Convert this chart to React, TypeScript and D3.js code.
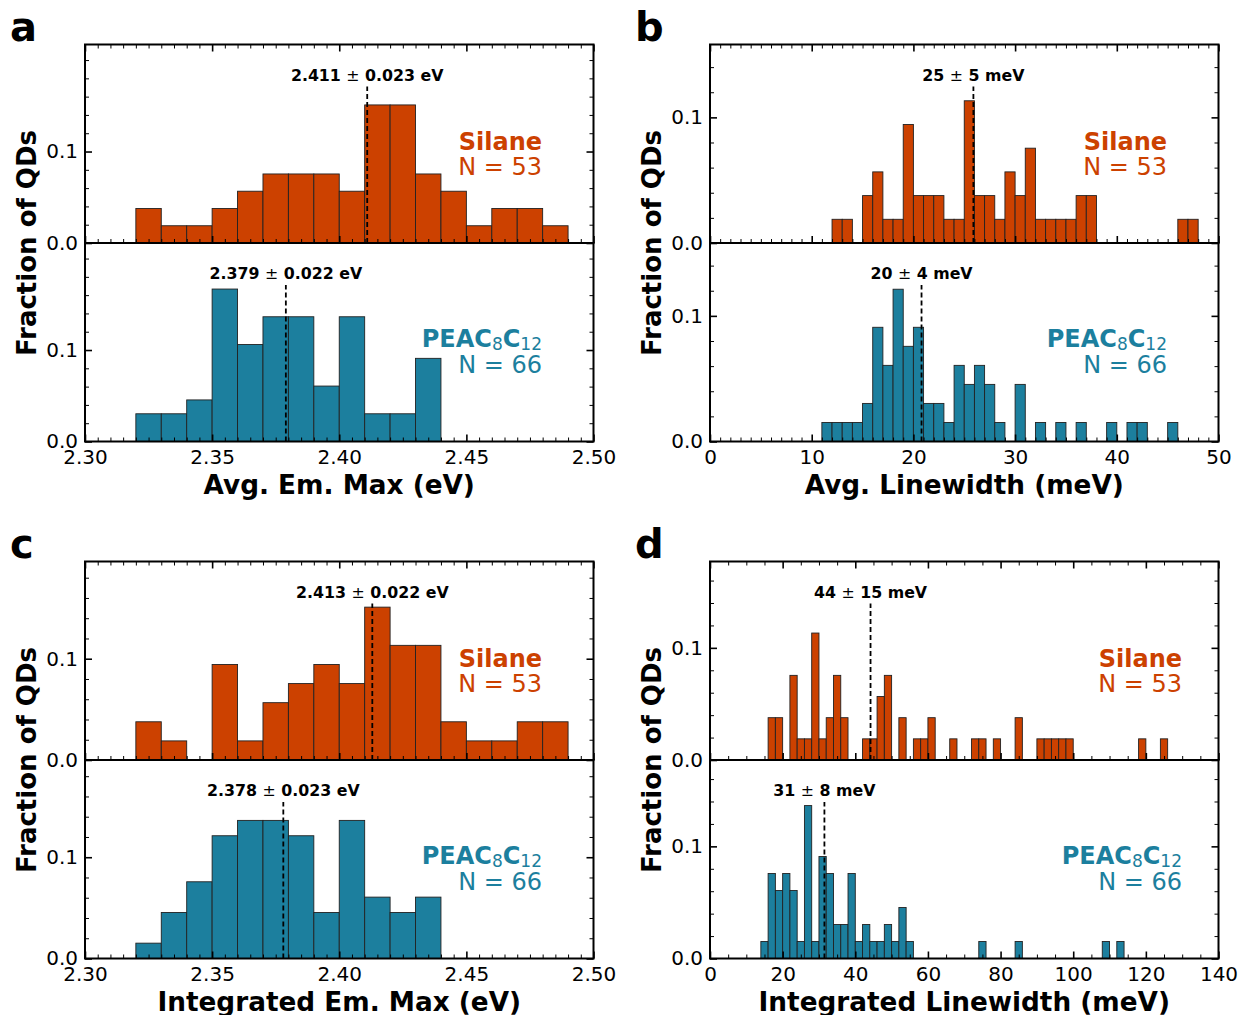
import React, { useRef, useEffect } from "react";
import * as d3 from "d3";

const FONT = "DejaVu Sans";
const silaneColor = "#cc4100";
const peacColor = "#1c7f9e";

const silaneN = 53;
const peacN = 66;

// a: average emission maximum, 0.01 eV bins (left edges)
const avgEmSilaneEdges = [2.32, 2.33, 2.34, 2.35, 2.36, 2.37, 2.38, 2.39, 2.4, 2.41, 2.42, 2.43, 2.44, 2.45, 2.46, 2.47, 2.48];
const avgEmSilaneCounts = [2, 1, 1, 2, 3, 4, 4, 4, 3, 8, 8, 4, 3, 1, 2, 2, 1];
const avgEmPeacEdges = [2.32, 2.33, 2.34, 2.35, 2.36, 2.37, 2.38, 2.39, 2.4, 2.41, 2.42, 2.43];
const avgEmPeacCounts = [2, 2, 3, 11, 7, 9, 9, 4, 9, 2, 2, 6];
const avgEmMeans = [2.411, 2.379];
const avgEmLabels = [["2.411", "0.023 eV"], ["2.379", "0.022 eV"]];

// b: average linewidth, 1 meV bins
const avgLwSilaneEdges = [12, 13, 15, 16, 17, 18, 19, 20, 21, 22, 23, 24, 25, 26, 27, 28, 29, 30, 31, 32, 33, 34, 35, 36, 37, 46, 47];
const avgLwSilaneCounts = [1, 1, 2, 3, 1, 1, 5, 2, 2, 2, 1, 1, 6, 2, 2, 1, 3, 2, 4, 1, 1, 1, 1, 2, 2, 1, 1];
const avgLwPeacEdges = [11, 12, 13, 14, 15, 16, 17, 18, 19, 20, 21, 22, 23, 24, 25, 26, 27, 28, 30, 32, 34, 36, 39, 41, 42, 45];
const avgLwPeacCounts = [1, 1, 1, 1, 2, 6, 4, 8, 5, 6, 2, 2, 1, 4, 3, 4, 3, 1, 3, 1, 1, 1, 1, 1, 1, 1];
const avgLwMeans = [25.9, 20.8];
const avgLwLabels = [["25", "5 meV"], ["20", "4 meV"]];

// c: integrated emission maximum, 0.01 eV bins
const intEmSilaneEdges = [2.32, 2.33, 2.35, 2.36, 2.37, 2.38, 2.39, 2.4, 2.41, 2.42, 2.43, 2.44, 2.45, 2.46, 2.47, 2.48];
const intEmSilaneCounts = [2, 1, 5, 1, 3, 4, 5, 4, 8, 6, 6, 2, 1, 1, 2, 2];
const intEmPeacEdges = [2.32, 2.33, 2.34, 2.35, 2.36, 2.37, 2.38, 2.39, 2.4, 2.41, 2.42, 2.43];
const intEmPeacCounts = [1, 3, 5, 8, 9, 9, 8, 3, 9, 4, 3, 4];
const intEmMeans = [2.413, 2.378];
const intEmLabels = [["2.413", "0.022 eV"], ["2.378", "0.023 eV"]];

// d: integrated linewidth, 2 meV bins
const intLwSilaneEdges = [16, 18, 22, 24, 26, 28, 30, 32, 34, 36, 42, 44, 46, 48, 52, 56, 58, 60, 66, 72, 74, 78, 84, 90, 92, 94, 96, 98, 118, 124];
const intLwSilaneCounts = [2, 2, 4, 1, 1, 6, 1, 2, 4, 2, 1, 1, 3, 4, 2, 1, 1, 2, 1, 1, 1, 1, 2, 1, 1, 1, 1, 1, 1, 1];
const intLwPeacEdges = [14, 16, 18, 20, 22, 24, 26, 28, 30, 32, 34, 36, 38, 40, 42, 44, 46, 48, 50, 52, 54, 74, 84, 108, 112];
const intLwPeacCounts = [1, 5, 4, 5, 4, 1, 9, 1, 6, 5, 2, 2, 5, 1, 2, 1, 1, 2, 1, 3, 1, 1, 1, 1, 1];
const intLwMeans = [44.2, 31.5];
const intLwLabels = [["44", "15 meV"], ["31", "8 meV"]];

const emTicks = [2.3, 2.35, 2.4, 2.45, 2.5];
const avgLwTicks = [0, 10, 20, 30, 40, 50];
const intLwTicks = [0, 20, 40, 60, 80, 100, 120, 140];
const yTicks = [0, 0.1];

const W = 508.5;
const H = 198.5;

const panels = [
  {
    letter: "a", left: 85, top: 44.5, domain: [2.3, 2.5], ticks: emTicks, minorStep: 0.005, fmt: ".2f",
    binWidth: 0.01, yMax: 0.217, xLabel: "Avg. Em. Max (eV)", textInset: 51.5,
    silane: [avgEmSilaneEdges, avgEmSilaneCounts], peac: [avgEmPeacEdges, avgEmPeacCounts],
    means: avgEmMeans, labels: avgEmLabels,
  },
  {
    letter: "b", left: 710, top: 44.5, domain: [0, 50], ticks: avgLwTicks, minorStep: 1, fmt: "d",
    binWidth: 1, yMax: 0.158, xLabel: "Avg. Linewidth (meV)", textInset: 51.5,
    silane: [avgLwSilaneEdges, avgLwSilaneCounts], peac: [avgLwPeacEdges, avgLwPeacCounts],
    means: avgLwMeans, labels: avgLwLabels,
  },
  {
    letter: "c", left: 85, top: 561.5, domain: [2.3, 2.5], ticks: emTicks, minorStep: 0.005, fmt: ".2f",
    binWidth: 0.01, yMax: 0.196, xLabel: "Integrated Em. Max (eV)", textInset: 51.5,
    silane: [intEmSilaneEdges, intEmSilaneCounts], peac: [intEmPeacEdges, intEmPeacCounts],
    means: intEmMeans, labels: intEmLabels,
  },
  {
    letter: "d", left: 710, top: 561.5, domain: [0, 140], ticks: intLwTicks, minorStep: 5, fmt: "d",
    binWidth: 2, yMax: 0.177, xLabel: "Integrated Linewidth (meV)", textInset: 36.5,
    silane: [intLwSilaneEdges, intLwSilaneCounts], peac: [intLwPeacEdges, intLwPeacCounts],
    means: intLwMeans, labels: intLwLabels,
  },
];

const styleAxis = (g, major) => {
  g.attr("font-family", FONT).attr("font-size", 20);
  g.select(".domain").remove();
  g.selectAll("line").attr("stroke", "#000").attr("stroke-width", major ? 1.6 : 1);
  g.selectAll("text").attr("fill", "#000");
};

function drawPanel(svg, p) {
  const g = svg.append("g").attr("transform", `translate(${p.left},${p.top})`);
  const x = d3.scaleLinear().domain(p.domain).range([0, W]);
  const y = d3.scaleLinear().domain([0, p.yMax]).range([H, 0]);

  const span = p.domain[1] - p.domain[0];
  const nMinor = Math.round(span / p.minorStep);
  const xMinor = d3.range(0, nMinor + 1)
    .map((i) => p.domain[0] + i * p.minorStep)
    .filter((v) => !p.ticks.some((t) => Math.abs(t - v) < p.minorStep / 10));
  const yMinor = d3.range(1, Math.floor(p.yMax / 0.02 + 1e-6) + 1)
    .map((i) => i * 0.02)
    .filter((v) => Math.abs(v - 0.1) > 0.001);

  [0, 1].forEach((k) => {
    const sub = g.append("g").attr("transform", `translate(0,${k * H})`);
    const [edges, counts] = k === 0 ? p.silane : p.peac;
    const n = k === 0 ? silaneN : peacN;
    const color = k === 0 ? silaneColor : peacColor;
    const bins = edges.map((e, i) => ({ e, f: counts[i] / n }));

    sub.selectAll("rect.bar")
      .data(bins)
      .enter()
      .append("rect")
      .attr("class", "bar")
      .attr("x", (d) => x(d.e))
      .attr("width", (d) => x(d.e + p.binWidth) - x(d.e))
      .attr("y", (d) => y(d.f))
      .attr("height", (d) => H - y(d.f))
      .attr("fill", color)
      .attr("stroke", "#222")
      .attr("stroke-width", 0.9);

    // mean line + label
    const mx = x(p.means[k]);
    sub.append("line")
      .attr("x1", mx).attr("x2", mx)
      .attr("y1", H).attr("y2", 42)
      .attr("stroke", "#000").attr("stroke-width", 1.8)
      .attr("stroke-dasharray", "5,3");
    const lab = sub.append("text")
      .attr("x", mx).attr("y", 36)
      .attr("text-anchor", "middle")
      .attr("font-family", FONT).attr("font-size", 15.8).attr("font-weight", "bold");
    lab.append("tspan").text(p.labels[k][0] + " ");
    lab.append("tspan").attr("font-weight", "normal").text("±");
    lab.append("tspan").text(" " + p.labels[k][1]);

    // group labels
    const tx = W - p.textInset;
    if (k === 0) {
      sub.append("text").attr("x", tx).attr("y", 105).attr("text-anchor", "end")
        .attr("font-family", FONT).attr("font-size", 24).attr("font-weight", "bold")
        .attr("fill", color).text("Silane");
    } else {
      const t = sub.append("text").attr("x", tx).attr("y", 104).attr("text-anchor", "end")
        .attr("font-family", FONT).attr("font-size", 24).attr("font-weight", "bold")
        .attr("fill", color);
      t.append("tspan").text("PEAC");
      t.append("tspan").attr("font-size", 17).attr("font-weight", "normal").attr("dy", 2.5).text("8");
      t.append("tspan").attr("dy", -2.5).text("C");
      t.append("tspan").attr("font-size", 17).attr("font-weight", "normal").attr("dy", 2.5).text("12");
    }
    sub.append("text").attr("x", tx).attr("y", 130).attr("text-anchor", "end")
      .attr("font-family", FONT).attr("font-size", 24)
      .attr("fill", color).text(`N = ${n}`);

    // ticks, all pointing inward
    const fmt = d3.format(p.fmt);
    sub.append("g").attr("transform", `translate(0,${H})`)
      .call(d3.axisBottom(x).tickValues(p.ticks).tickSize(-7).tickPadding(8)
        .tickFormat(k === 1 ? fmt : () => ""))
      .call((s) => styleAxis(s, true));
    sub.append("g").attr("transform", `translate(0,${H})`)
      .call(d3.axisBottom(x).tickValues(xMinor).tickSize(-4).tickFormat(() => ""))
      .call((s) => styleAxis(s, false));
    if (k === 0) {
      sub.append("g")
        .call(d3.axisTop(x).tickValues(p.ticks).tickSize(-7).tickFormat(() => ""))
        .call((s) => styleAxis(s, true));
      sub.append("g")
        .call(d3.axisTop(x).tickValues(xMinor).tickSize(-4).tickFormat(() => ""))
        .call((s) => styleAxis(s, false));
    }
    sub.append("g")
      .call(d3.axisLeft(y).tickValues(yTicks).tickSize(-7).tickPadding(7).tickFormat(d3.format(".1f")))
      .call((s) => styleAxis(s, true));
    sub.append("g")
      .call(d3.axisLeft(y).tickValues(yMinor).tickSize(-4).tickFormat(() => ""))
      .call((s) => styleAxis(s, false));
    sub.append("g").attr("transform", `translate(${W},0)`)
      .call(d3.axisRight(y).tickValues(yTicks).tickSize(-7).tickFormat(() => ""))
      .call((s) => styleAxis(s, true));
    sub.append("g").attr("transform", `translate(${W},0)`)
      .call(d3.axisRight(y).tickValues(yMinor).tickSize(-4).tickFormat(() => ""))
      .call((s) => styleAxis(s, false));

    sub.append("rect")
      .attr("width", W).attr("height", H)
      .attr("fill", "none").attr("stroke", "#000").attr("stroke-width", 2);
  });

  g.append("text")
    .attr("transform", `translate(-49,${H}) rotate(-90)`)
    .attr("text-anchor", "middle")
    .attr("font-family", FONT).attr("font-size", 26).attr("font-weight", "bold")
    .text("Fraction of QDs");

  g.append("text")
    .attr("x", W / 2).attr("y", 2 * H + 52)
    .attr("text-anchor", "middle")
    .attr("font-family", FONT).attr("font-size", 26.3).attr("font-weight", "bold")
    .text(p.xLabel);

  g.append("text")
    .attr("x", -75).attr("y", -4)
    .attr("font-family", FONT).attr("font-size", 40).attr("font-weight", "bold")
    .text(p.letter);
}

const App = () => {
  const ref = useRef(null);

  useEffect(() => {
    const svg = d3.select(ref.current);
    svg.selectAll("*").remove();
    svg.append("rect").attr("width", 1241).attr("height", 1015).attr("fill", "#fff");
    panels.forEach((p) => drawPanel(svg, p));
  }, []);

  return (
    <svg
      ref={ref}
      width={1241}
      height={1015}
      style={{ position: "absolute", left: 0, top: 0 }}
    ></svg>
  );
};

export default App;
